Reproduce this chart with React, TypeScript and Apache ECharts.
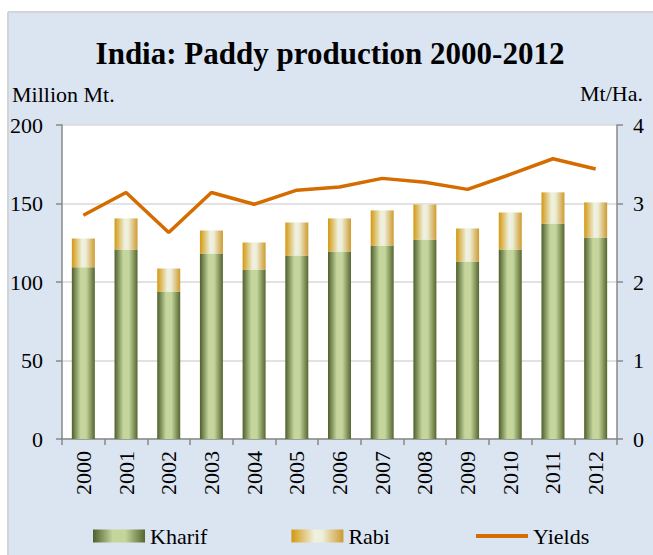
import React, { useEffect, useRef } from "react";
import * as echarts from "echarts";

const years = ["2000", "2001", "2002", "2003", "2004", "2005", "2006", "2007", "2008", "2009", "2010", "2011", "2012"];
const kharif = [109.4, 120.7, 93.9, 118.1, 107.9, 116.9, 119.4, 123.2, 127.1, 113.0, 120.7, 137.3, 128.4];
const rabi = [18.3, 19.8, 14.7, 14.7, 17.3, 21.0, 21.1, 22.4, 22.3, 21.1, 23.6, 19.8, 22.3];
const yields = [2.85, 3.14, 2.63, 3.14, 2.99, 3.17, 3.21, 3.32, 3.27, 3.18, 3.37, 3.57, 3.44];

const titleText = "India: Paddy production 2000-2012";
const leftAxisName = "Million Mt.";
const rightAxisName = "Mt/Ha.";

const FONT = '"Liberation Serif", "Times New Roman", serif';

export default function App() {
  const ref = useRef<HTMLDivElement>(null);
  useEffect(() => {
    if (!ref.current) return;
    const chart = echarts.init(ref.current, null, { renderer: "svg" });
    const kharifGrad = new echarts.graphic.LinearGradient(0, 0, 1, 0, [
      { offset: 0, color: "#4e5f2a" },
      { offset: 0.38, color: "#c4d69c" },
      { offset: 0.62, color: "#c4d69c" },
      { offset: 1, color: "#55672e" },
    ]);
    const rabiGrad = new echarts.graphic.LinearGradient(0, 0, 1, 0, [
      { offset: 0, color: "#d2980f" },
      { offset: 0.45, color: "#eff2e2" },
      { offset: 0.6, color: "#eceed9" },
      { offset: 1, color: "#cf9a2e" },
    ]);
    const axisLineStyle = { color: "#898989", width: 1.5 };
    chart.setOption({
      animation: false,
      backgroundColor: "#dbe5f1",
      textStyle: { fontFamily: FONT },
      graphic: [
        { type: "rect", shape: { x: 0, y: 0, width: 653, height: 12 }, style: { fill: "#ffffff" }, silent: true },
        { type: "rect", shape: { x: 0, y: 0, width: 8, height: 555 }, style: { fill: "#ffffff" }, silent: true },
        { type: "line", shape: { x1: 8, y1: 12, x2: 653, y2: 12 }, style: { stroke: "#d4d4d4", lineWidth: 2 }, silent: true },
        { type: "line", shape: { x1: 8, y1: 12, x2: 8, y2: 555 }, style: { stroke: "#d4d4d4", lineWidth: 2 }, silent: true },
        {
          type: "text",
          x: 330,
          y: 53,
          style: { text: titleText, fontFamily: FONT, fontWeight: "bold", fontSize: 31, fill: "#000", align: "center", verticalAlign: "middle" },
        },
        {
          type: "text",
          x: 12,
          y: 94,
          style: { text: leftAxisName, fontFamily: FONT, fontSize: 22, fill: "#000", align: "left", verticalAlign: "middle" },
        },
        {
          type: "text",
          x: 643,
          y: 93,
          style: { text: rightAxisName, fontFamily: FONT, fontSize: 22, fill: "#000", align: "right", verticalAlign: "middle" },
        },
      ],
      legend: {
        left: 93,
        top: 525,
        padding: 0,
        itemWidth: 52,
        itemHeight: 13,
        itemGap: 84,
        textStyle: { fontFamily: FONT, fontSize: 22, color: "#000" },
        data: [
          { name: "Kharif", icon: "rect" },
          { name: "Rabi", icon: "rect" },
          { name: "Yields", itemStyle: { opacity: 0 }, lineStyle: { width: 4, color: "#d46c00" } },
        ],
      },
      grid: {
        left: 62,
        right: 36,
        top: 125,
        bottom: 116,
        show: true,
        backgroundColor: "#ffffff",
        borderWidth: 0,
      },
      xAxis: {
        type: "category",
        data: years,
        axisLine: { lineStyle: axisLineStyle },
        axisTick: { show: true, length: 6, lineStyle: axisLineStyle },
        axisLabel: { rotate: 90, margin: 12, fontFamily: FONT, fontSize: 22, color: "#000" },
      },
      yAxis: [
        {
          type: "value",
          min: 0,
          max: 200,
          interval: 50,
          axisLine: { show: true, lineStyle: axisLineStyle },
          axisTick: { show: true, length: 6, lineStyle: axisLineStyle },
          axisLabel: { margin: 19, fontFamily: FONT, fontSize: 22, color: "#000" },
          splitLine: { show: true, lineStyle: { color: "#d9d9d9", width: 1.5 } },
        },
        {
          type: "value",
          min: 0,
          max: 4,
          interval: 1,
          position: "right",
          axisLine: { show: true, lineStyle: axisLineStyle },
          axisTick: { show: true, length: 6, lineStyle: axisLineStyle },
          axisLabel: { margin: 16, fontFamily: FONT, fontSize: 22, color: "#000" },
          splitLine: { show: false },
        },
      ],
      series: [
        {
          name: "Kharif",
          type: "bar",
          stack: "total",
          barWidth: 23,
          data: kharif,
          itemStyle: { color: kharifGrad },
        },
        {
          name: "Rabi",
          type: "bar",
          stack: "total",
          barWidth: 23,
          data: rabi,
          itemStyle: { color: rabiGrad },
        },
        {
          name: "Yields",
          type: "line",
          yAxisIndex: 1,
          data: yields,
          symbol: "none",
          showSymbol: false,
          lineStyle: { color: "#d46c00", width: 3.5 },
          itemStyle: { color: "#d46c00" },
        },
      ],
    });
    return () => chart.dispose();
  }, []);
  return <div ref={ref} style={{ position: "fixed", left: 0, top: 0, width: 653, height: 555 }} />;
}
